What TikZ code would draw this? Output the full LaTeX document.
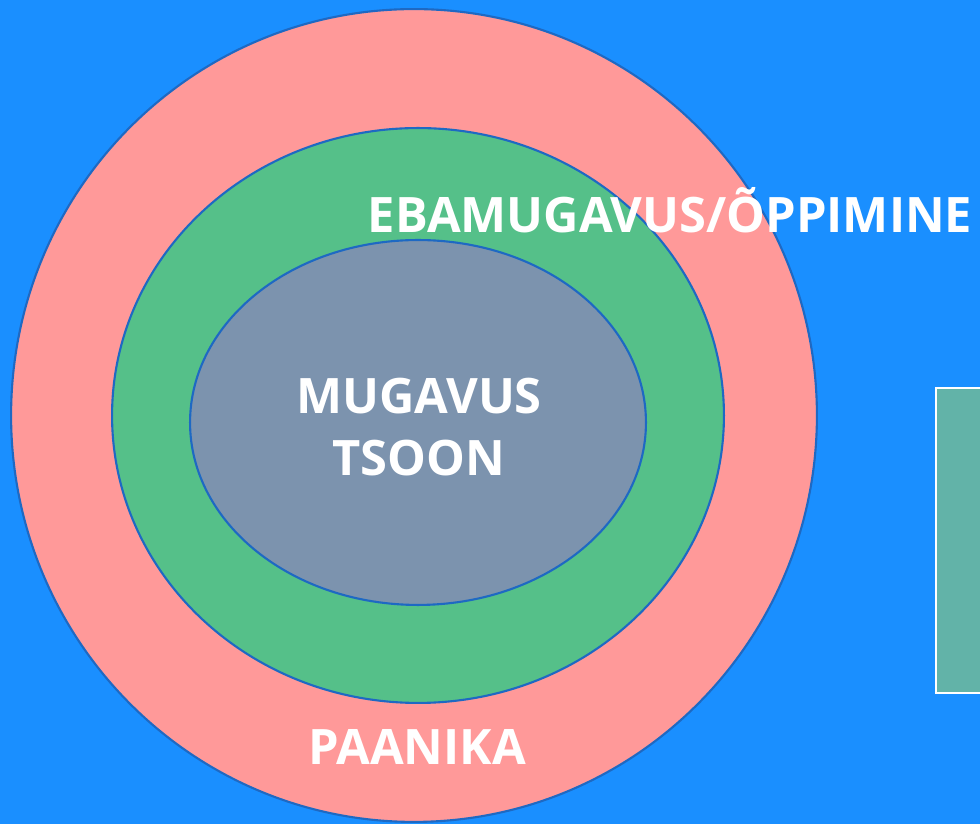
\documentclass[tikz,border=0pt]{standalone}
\usepackage{fontspec}
\setmainfont{Open Sans}
\usetikzlibrary{shapes.geometric}
\definecolor{bgblue}{RGB}{26,143,255}
\definecolor{zonepink}{RGB}{255,153,153}
\definecolor{zonegreen}{RGB}{85,192,137}
\definecolor{zonegrey}{RGB}{124,147,174}
\definecolor{zoneline}{RGB}{30,105,195}
\definecolor{boxteal}{RGB}{98,179,168}
\begin{document}
\begin{tikzpicture}[x=0.02cm,y=0.02cm,
    zone/.style={ellipse,draw=zoneline,line width=1.2pt,inner sep=0pt},
    label/.style={text=white,font=\bfseries\fontsize{27.8}{33}\selectfont,align=center}]
    \fill[bgblue] (0,0) rectangle (980,824);
    \useasboundingbox (0,0) rectangle (980,824);

    \node[zone,fill=zonepink,minimum width=16.12cm,minimum height=16.26cm] (panic) at (414,408.5) {};
    \node[zone,fill=zonegreen,minimum width=12.24cm,minimum height=11.5cm] (learn) at (418,408.5) {};
    \node[zone,fill=zonegrey,minimum width=9.12cm,minimum height=7.3cm] (comfort) at (418,401.5) {};

    \filldraw[fill=boxteal,draw=white,line width=1.5pt] (936,131) rectangle (1000,436);

    \node[label] (comforttext) at (419,397) {MUGAVUS\\[2pt]TSOON};
    \node[label] (learntext) at (670,614) {EBAMUGAVUS/ÕPPIMINE};
    \node[label] (panictext) at (417,77) {PAANIKA};
\end{tikzpicture}
\end{document}
